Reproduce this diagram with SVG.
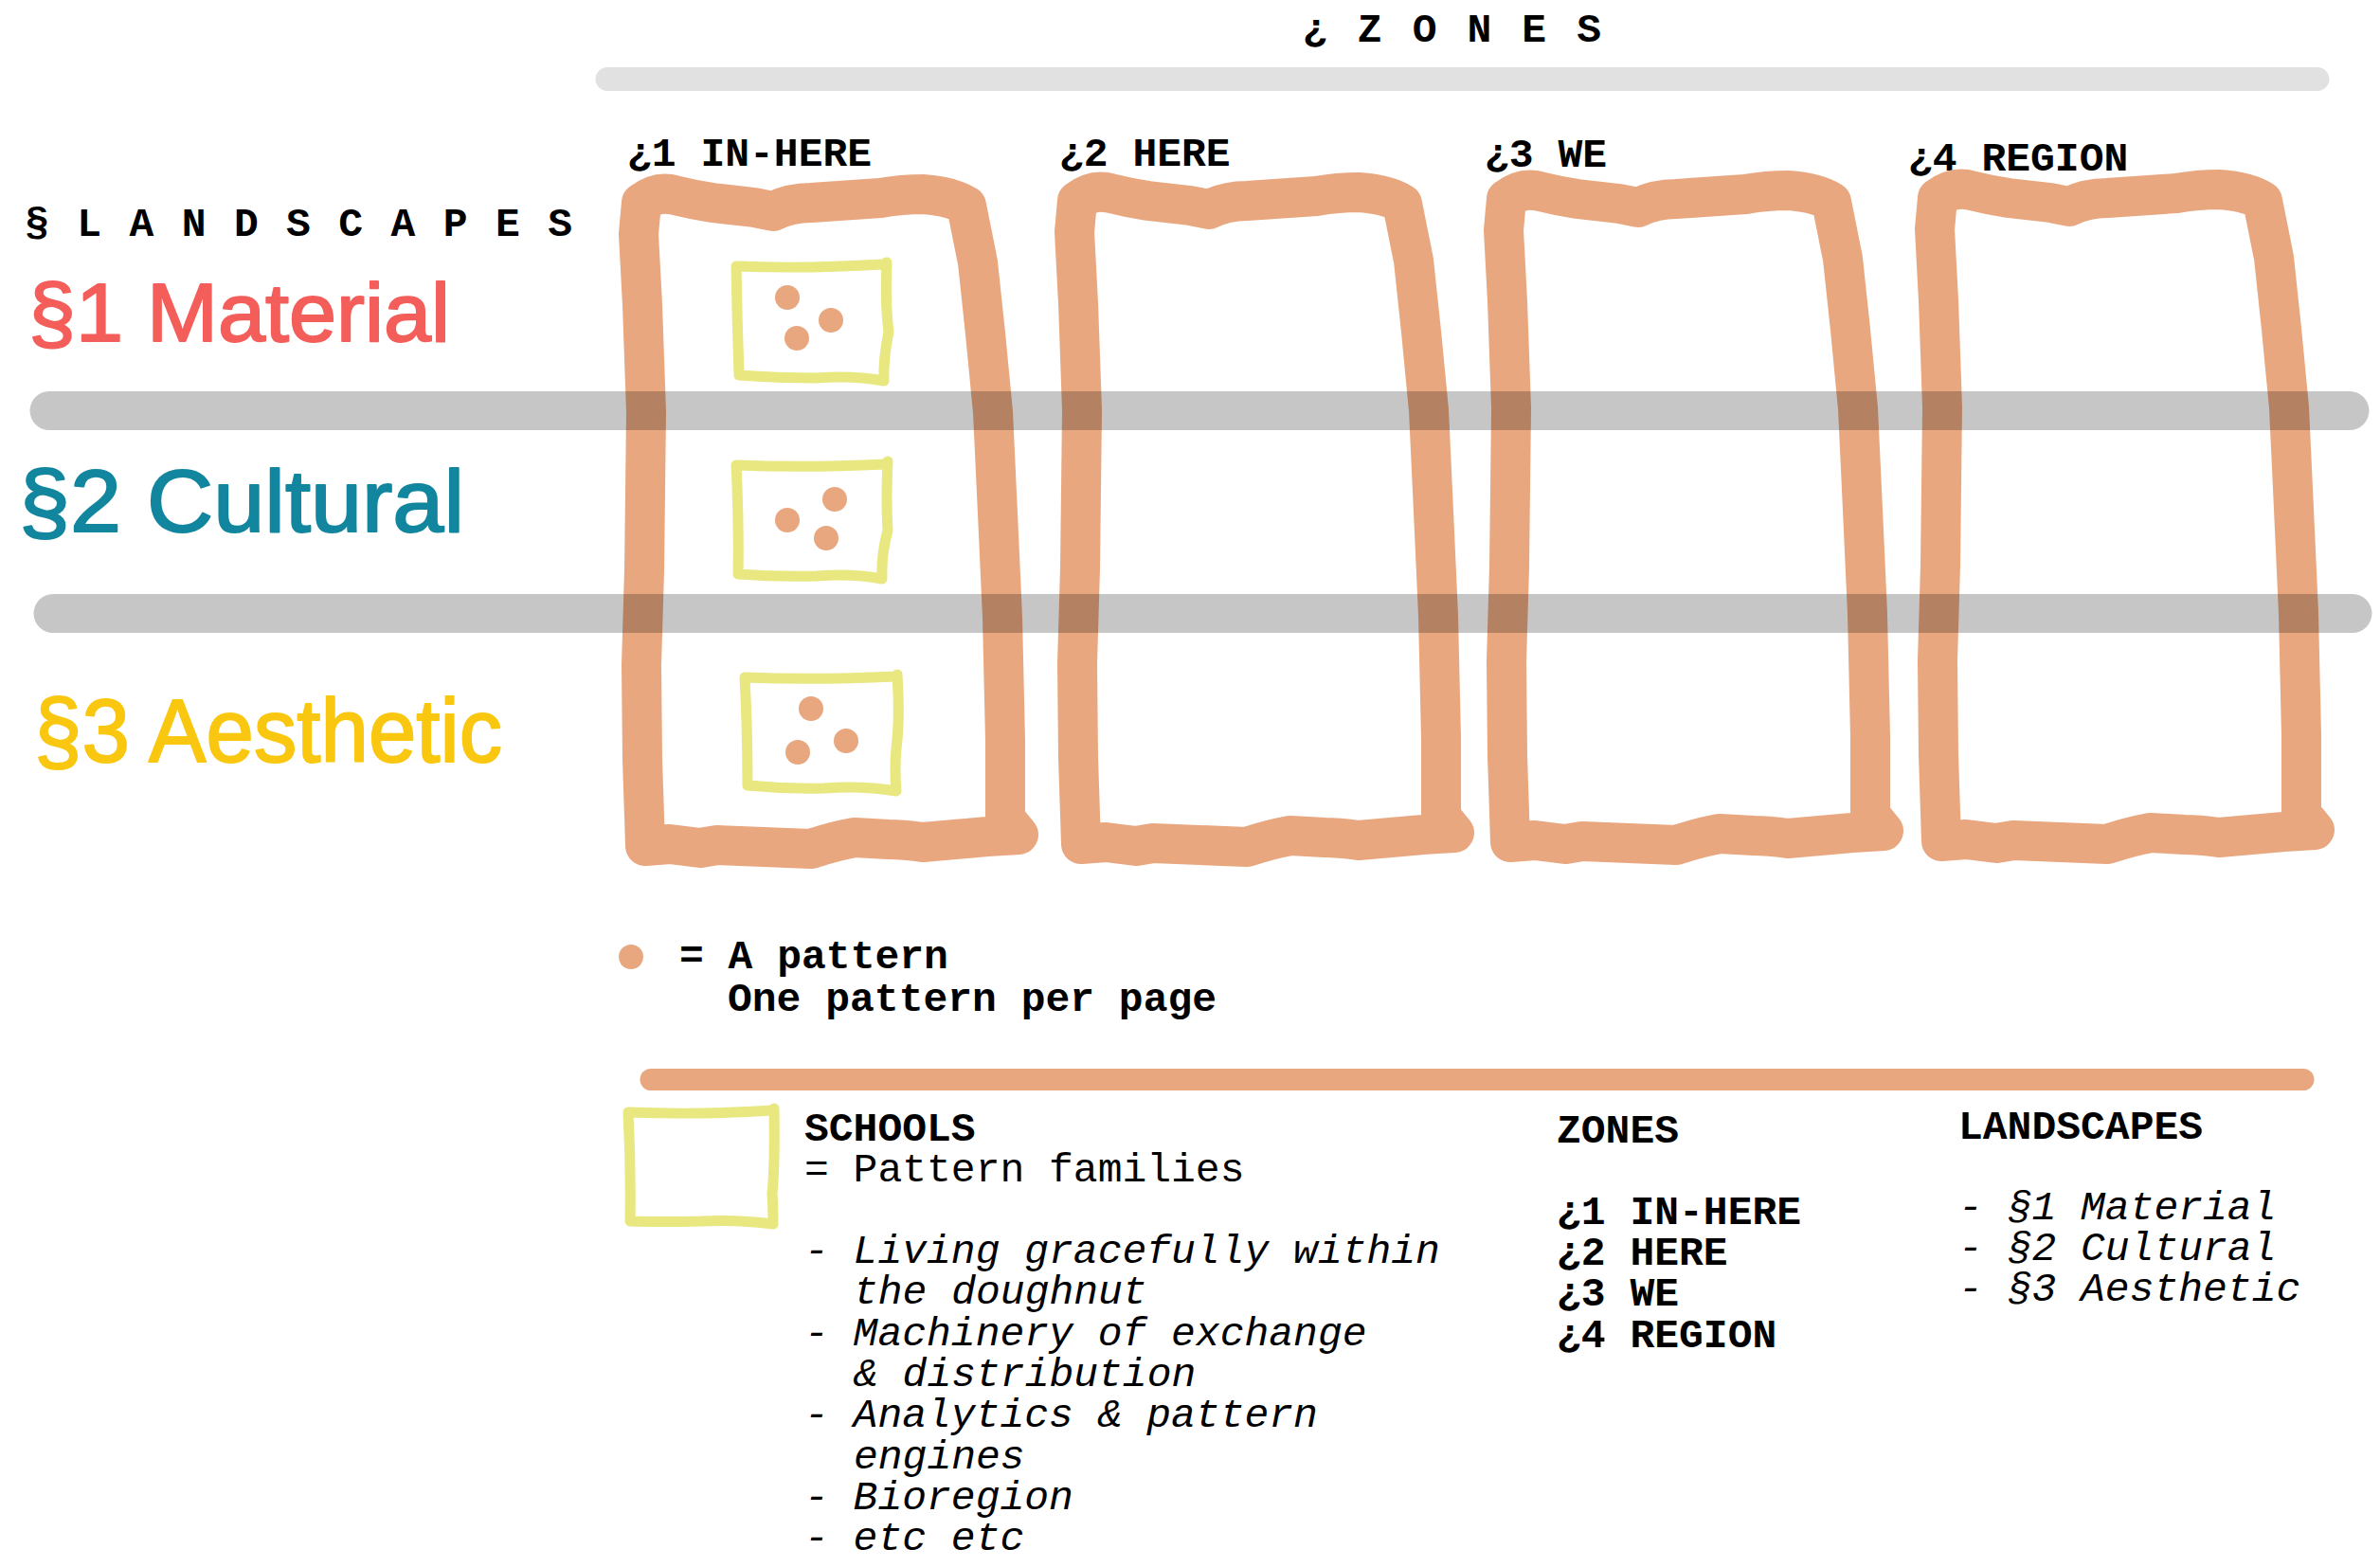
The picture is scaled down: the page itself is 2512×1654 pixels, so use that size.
<svg xmlns="http://www.w3.org/2000/svg" xmlns:xlink="http://www.w3.org/1999/xlink" width="2512" height="1654" viewBox="0 0 2512 1654">
<style>
.mono{font-family:"Liberation Mono","Courier New",monospace;font-size:43px;fill:#000}
.b{font-weight:bold}
.i{font-style:italic}
.hand{font-family:"Liberation Sans",Arial,sans-serif;stroke-width:2;stroke-linejoin:round}
.zone{fill:none;stroke:#e8a77f;stroke-width:42;stroke-linejoin:round;stroke-linecap:round}
.school{fill:none;stroke:#e8e780;stroke-width:11;stroke-linejoin:round;stroke-linecap:round}
.dot{fill:#e8a77f}
.band{stroke:#000;stroke-opacity:0.224;stroke-linecap:round;stroke-width:41}
</style>
<defs>
<path id="zoneShape" class="zone" d="M 1137,212 Q 1154,199 1172,204 Q 1192,209 1212,212 L 1256,217 L 1276,221 Q 1294,212 1316,212 L 1389,207 Q 1412,203 1434,203 Q 1464,205 1480,215 L 1486,245 L 1492,275 L 1500,350 L 1508,433 L 1513,540 L 1518,650 L 1521,780 L 1521,862 L 1535,879 L 1502,881 L 1434,887 Q 1412,884 1398,884 L 1362,882 Q 1340,886 1316,894 L 1217,890 L 1199,893 L 1167,889 L 1141,891 L 1140,860 L 1138,800 L 1137,700 L 1140,600 L 1142,433 L 1138,320 L 1134,245 Z"/>
</defs>
<rect width="2512" height="1654" fill="#fff"/>

<g id="zones-title">
<text class="mono b" x="1375" y="44" textLength="315" lengthAdjust="spacing">¿ Z O N E S</text>
<line x1="641" y1="83.5" x2="2446" y2="83.5" stroke="#e1e1e1" stroke-width="25" stroke-linecap="round"/>
</g>

<g id="landscapes-title">
<text class="mono b" x="26" y="249" textLength="578" lengthAdjust="spacing">§ L A N D S C A P E S</text>
</g>

<g id="zone-1">
<text class="mono b" x="662" y="175">¿1 IN-HERE</text>
<use xlink:href="#zoneShape" href="#zoneShape" transform="translate(-460,2)"/>
</g>
<g id="zone-2">
<text class="mono b" x="1118" y="175">¿2 HERE</text>
<use xlink:href="#zoneShape" href="#zoneShape"/>
</g>
<g id="zone-3">
<text class="mono b" x="1567" y="176">¿3 WE</text>
<use xlink:href="#zoneShape" href="#zoneShape" transform="translate(453,-2)"/>
</g>
<g id="zone-4">
<text class="mono b" x="2014" y="180">¿4 REGION</text>
<use xlink:href="#zoneShape" href="#zoneShape" transform="translate(908,-3)"/>
</g>

<g id="school-material">
<path class="school" d="M 777,281 Q 850,284 932,279 L 936,277 Q 934,320 938,350 Q 932,380 933,402 Q 900,396 862,399 Q 820,399 780,396 Q 778,340 777,281 Z"/>
<circle class="dot" cx="831" cy="314" r="13"/>
<circle class="dot" cx="877" cy="338" r="13"/>
<circle class="dot" cx="841" cy="357" r="13"/>
</g>
<g id="school-cultural">
<path class="school" d="M 777,491 Q 850,494 934,490 L 937,487 Q 935,530 937,560 Q 930,585 931,611 Q 900,605 862,608 Q 820,609 779,606 Q 780,550 777,491 Z"/>
<circle class="dot" cx="881" cy="527" r="13"/>
<circle class="dot" cx="831" cy="549" r="13"/>
<circle class="dot" cx="872" cy="568" r="13"/>
</g>
<g id="school-aesthetic">
<path class="school" d="M 786,715 Q 860,718 945,714 L 947,712 Q 950,760 946,790 Q 944,812 946,835 Q 910,829 870,832 Q 830,833 789,829 Q 789,770 786,715 Z"/>
<circle class="dot" cx="856" cy="748" r="13"/>
<circle class="dot" cx="893" cy="782" r="13"/>
<circle class="dot" cx="842" cy="794" r="13"/>
</g>

<g id="bands">
<line class="band" x1="52" y1="433.5" x2="2480" y2="433.5"/>
<line class="band" x1="56" y1="647.5" x2="2483" y2="647.5"/>
</g>

<g id="landscape-material">
<text class="hand" x="30" y="360" font-size="88" textLength="445" lengthAdjust="spacingAndGlyphs" fill="#f45e5a" stroke="#f45e5a">§1 Material</text>
</g>
<g id="landscape-cultural">
<text class="hand" x="20" y="561" font-size="92" textLength="470" lengthAdjust="spacingAndGlyphs" fill="#11869e" stroke="#11869e">§2 Cultural</text>
</g>
<g id="landscape-aesthetic">
<text class="hand" x="36" y="804" font-size="95" textLength="494" lengthAdjust="spacingAndGlyphs" fill="#fac710" stroke="#fac710">§3 Aesthetic</text>
</g>

<g id="legend-pattern">
<circle class="dot" cx="666" cy="1010" r="13"/>
<text class="mono b" x="717" y="1022">= A pattern</text>
<text class="mono b" x="768" y="1067">One pattern per page</text>
</g>

<g id="legend-divider">
<line x1="687" y1="1139.5" x2="2431" y2="1139.5" stroke="#e8a77f" stroke-width="23" stroke-linecap="round"/>
</g>

<g id="legend-schools">
<path class="school" d="M 663,1174 Q 740,1177 815,1172 L 817,1170 Q 818,1230 815,1260 Q 816,1275 816,1292 Q 780,1287 740,1289 Q 700,1290 665,1289 Q 666,1230 663,1174 Z"/>
<text class="mono b" x="849" y="1204">SCHOOLS</text>
<text class="mono" x="849" y="1247">= Pattern families</text>
<text class="mono i" x="849" y="1333">- Living gracefully within</text>
<text class="mono i" x="901" y="1376">the doughnut</text>
<text class="mono i" x="849" y="1420">- Machinery of exchange</text>
<text class="mono i" x="901" y="1463">&amp; distribution</text>
<text class="mono i" x="849" y="1506">- Analytics &amp; pattern</text>
<text class="mono i" x="901" y="1550">engines</text>
<text class="mono i" x="849" y="1593">- Bioregion</text>
<text class="mono i" x="849" y="1636">- etc etc</text>
</g>

<g id="legend-zones">
<text class="mono b" x="1643" y="1206">ZONES</text>
<text class="mono b" x="1643" y="1292">¿1 IN-HERE</text>
<text class="mono b" x="1643" y="1335">¿2 HERE</text>
<text class="mono b" x="1643" y="1378">¿3 WE</text>
<text class="mono b" x="1643" y="1422">¿4 REGION</text>
</g>

<g id="legend-landscapes">
<text class="mono b" x="2067" y="1202">LANDSCAPES</text>
<text class="mono i" x="2067" y="1287">- §1 Material</text>
<text class="mono i" x="2067" y="1330">- §2 Cultural</text>
<text class="mono i" x="2067" y="1373">- §3 Aesthetic</text>
</g>

<g id="connectors"></g>
</svg>
